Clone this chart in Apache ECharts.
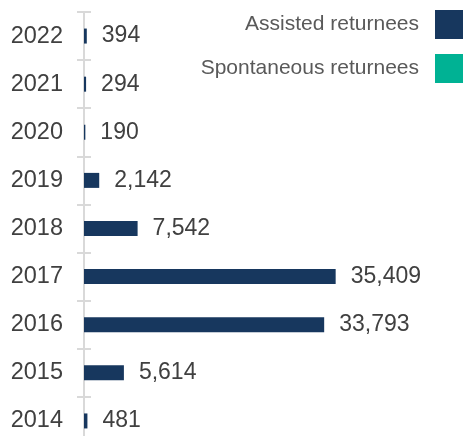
<!DOCTYPE html>
<html>
<head>
<meta charset="utf-8">
<script src="https://cdn.jsdelivr.net/npm/echarts@6/dist/echarts.min.js"></script>
<style>
  html, body { margin: 0; padding: 0; background: #fff; }
  #chart { width: 463px; height: 436px; }
</style>
</head>
<body>
<div id="chart"></div>
<script>
var years = ['2014', '2015', '2016', '2017', '2018', '2019', '2020', '2021', '2022'];
var assisted = [481, 5614, 33793, 35409, 7542, 2142, 190, 294, 394];
var spontaneous = [0, 0, 0, 0, 0, 0, 0, 0, 0];

var chart = echarts.init(document.getElementById('chart'));

var option = {
    animation: false,
    textStyle: { fontFamily: 'Liberation Sans, Arial, sans-serif' },
    legend: {
        orient: 'vertical',
        right: -2,
        top: 10,
        padding: 0,
        align: 'right',
        itemWidth: 30,
        itemHeight: 29,
        itemGap: 15,
        icon: 'rect',
        selectedMode: false,
        textStyle: { fontSize: 21, color: '#595959', padding: [0, 11, 0, 0] },
        data: ['Assisted returnees', 'Spontaneous returnees']
    },
    grid: { left: 84, right: 8, top: 12, bottom: -9, outerBoundsMode: 'none', containLabel: false },
    xAxis: {
        type: 'value',
        min: 0,
        max: 52200,
        show: false
    },
    yAxis: [
        {
            type: 'category',
            data: years,
            axisLine: { show: true, lineStyle: { color: '#d9d9d9', width: 2 } },
            axisTick: { show: true, length: 7, lineStyle: { color: '#d9d9d9', width: 2 } },
            axisLabel: { fontSize: 23.5, color: '#404040', margin: 21 }
        },
        {
            type: 'category',
            data: years,
            position: 'left',
            axisLine: { show: false },
            axisTick: { show: true, inside: true, length: 7, lineStyle: { color: '#d9d9d9', width: 2 } },
            axisLabel: { show: false }
        }
    ],
    series: [
        {
            name: 'Assisted returnees',
            type: 'bar',
            stack: 'total',
            data: assisted,
            barWidth: 15,
            itemStyle: { color: '#17375e' },
            label: {
                show: true,
                position: 'right',
                distance: 15,
                fontSize: 23,
                color: '#404040',
                formatter: function (p) { return p.value.toLocaleString('en-US'); }
            }
        },
        {
            name: 'Spontaneous returnees',
            type: 'bar',
            stack: 'total',
            data: spontaneous,
            barWidth: 15,
            itemStyle: { color: '#00b294' }
        }
    ]
};

chart.setOption(option);
</script>
</body>
</html>
